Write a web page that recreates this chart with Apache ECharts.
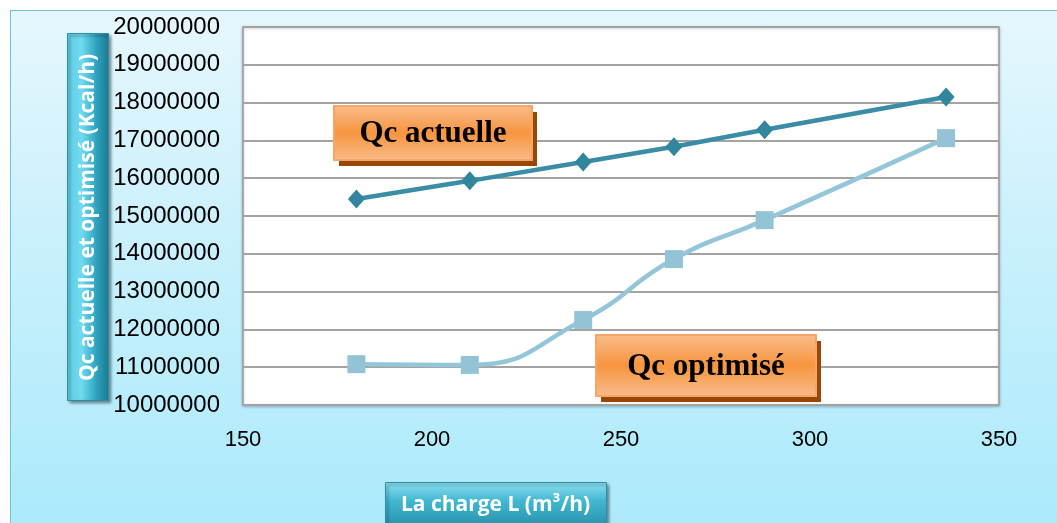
<!DOCTYPE html>
<html>
<head>
<meta charset="utf-8">
<script src="https://cdn.jsdelivr.net/npm/echarts@6/dist/echarts.min.js"></script>
<style>
  html, body { margin: 0; padding: 0; background: #fff; }
  #frame {
    position: absolute; left: 10px; top: 10px; width: 1060px; height: 520px;
    border: 1.5px solid #6CC3DA;
    background: linear-gradient(to bottom, #E6F7FD 0%, #C9F0FC 45%, #ABEAFB 100%);
  }
  #chart { position: absolute; left: 0; top: 0; width: 1057px; height: 523px; }
</style>
</head>
<body>
<div id="frame"></div>
<div id="chart"></div>
<script>
  // valeurs
  var charges = [180, 210, 240, 264, 288, 336];
  var qcActuelle = [15450000, 15930000, 16430000, 16830000, 17280000, 18150000];
  var qcOptimise = [11080000, 11060000, 12250000, 13860000, 14890000, 17060000];
  var xTicks = [150, 200, 250, 300, 350];
  var yMin = 10000000, yMax = 20000000, yStep = 1000000;

  function pairs(xs, ys) {
    return xs.map(function (x, i) { return [x, ys[i]]; });
  }

  function orangeFill() {
    return new echarts.graphic.LinearGradient(0, 0, 0, 1, [
      { offset: 0, color: '#F9BD8C' },
      { offset: 0.5, color: '#F7953F' },
      { offset: 1, color: '#F9BD8C' }
    ]);
  }

  function labelBox(x, y, w, h, txt) {
    return {
      type: 'group', left: x, top: y, z: 100,
      children: [
        { type: 'rect', z: 100, shape: { x: 5, y: 6, width: w, height: h }, style: { fill: '#974706' } },
        { type: 'rect', z: 101, shape: { x: 0, y: 0, width: w, height: h },
          style: { fill: orangeFill(), stroke: '#F9A464', lineWidth: 2 } },
        { type: 'text', z: 102, x: w / 2, y: h / 2 + 1,
          style: { text: txt, fill: '#000', font: 'bold 31px "Liberation Serif", serif',
                   align: 'center', verticalAlign: 'middle' } }
      ]
    };
  }

  var chart = echarts.init(document.getElementById('chart'));
  chart.setOption({
    animation: false,
    grid: {
      left: 243, right: 58, top: 27, bottom: 118,
      show: true, backgroundColor: '#fff', borderColor: '#9A9A9A', borderWidth: 1.5,
      shadowColor: 'rgba(0,0,0,0.25)', shadowBlur: 3, shadowOffsetY: 1
    },
    xAxis: {
      type: 'value', min: xTicks[0], max: xTicks[xTicks.length - 1], interval: 50,
      axisLine: { show: false }, axisTick: { show: false }, splitLine: { show: false },
      axisLabel: { margin: 24, color: '#000', fontSize: 22, fontFamily: 'Liberation Sans' }
    },
    yAxis: {
      type: 'value', min: yMin, max: yMax, interval: yStep,
      axisLine: { show: false }, axisTick: { show: false },
      splitLine: { lineStyle: { color: '#A3A3A3', width: 2 } },
      axisLabel: { margin: 23, color: '#000', fontSize: 24, fontFamily: 'Liberation Sans',
                   formatter: function (v) { return String(v); } }
    },
    series: [
      {
        name: 'Qc actuelle', type: 'line', data: pairs(charges, qcActuelle),
        symbol: 'diamond', symbolSize: [17, 19],
        lineStyle: { color: '#3A8DA5', width: 4.5 },
        itemStyle: { color: '#31859C' }, z: 3
      },
      {
        name: 'Qc optimisé', type: 'line', data: pairs(charges, qcOptimise),
        smooth: 0.5,
        symbol: 'rect', symbolSize: 18,
        lineStyle: { color: '#93C6D8', width: 4.5 },
        itemStyle: { color: '#93C4D5' }, z: 2
      }
    ],
    graphic: [
      labelBox(333, 105, 198, 54, 'Qc actuelle'),
      labelBox(595, 334, 220, 61, 'Qc optimisé'),
      {
        type: 'group', left: 67, top: 33, z: 100,
        children: [
          { type: 'rect', z: 100, shape: { x: 0, y: 0, width: 41, height: 367 },
            style: { fill: new echarts.graphic.LinearGradient(0, 0, 1, 0, [
              { offset: 0, color: '#5FCDE6' }, { offset: 0.35, color: '#6FDAF0' },
              { offset: 0.7, color: '#2FA3BE' }, { offset: 1, color: '#1B7891' }
            ]), stroke: '#2C8EA8', lineWidth: 1,
            shadowColor: 'rgba(0,0,0,0.45)', shadowBlur: 3, shadowOffsetX: 2, shadowOffsetY: 2 } },
          { type: 'text', z: 101, x: 21, y: 184, rotation: Math.PI / 2,
            style: { text: 'Qc actuelle et optimisé (Kcal/h)', fill: '#fff',
                     font: 'bold 21px "Open Sans", sans-serif',
                     align: 'center', verticalAlign: 'middle' } }
        ]
      },
      {
        type: 'group', left: 385, top: 482, z: 100,
        children: [
          { type: 'rect', z: 100, shape: { x: 0, y: 0, width: 221, height: 45 },
            style: { fill: new echarts.graphic.LinearGradient(0, 0, 0, 1, [
              { offset: 0, color: '#8EE2F2' }, { offset: 0.4, color: '#43B8D2' },
              { offset: 1, color: '#2590AB' }
            ]), stroke: '#2C8EA8', lineWidth: 1,
            shadowColor: 'rgba(0,0,0,0.45)', shadowBlur: 3, shadowOffsetX: 2, shadowOffsetY: 2 } },
          { type: 'text', z: 101, x: 110, y: 23,
            style: { text: 'La charge L (m³/h)', fill: '#fff',
                     font: 'bold 21px "Open Sans", sans-serif',
                     align: 'center', verticalAlign: 'middle' } }
        ]
      }
    ]
  });
</script>
</body>
</html>
